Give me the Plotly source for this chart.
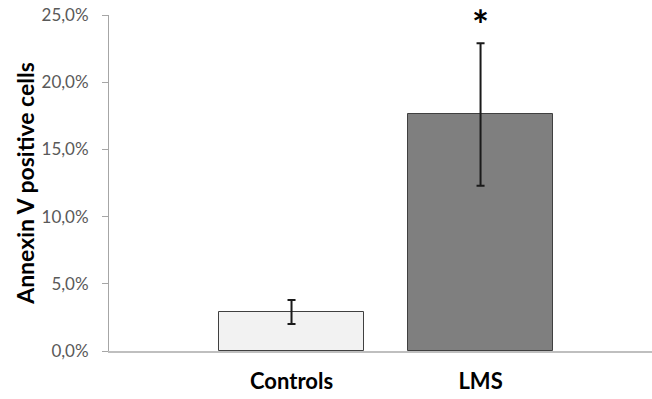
import plotly.graph_objects as go

categories = ["Controls", "LMS"]
means = [0.029, 0.176]
errors = [0.009, 0.053]
bar_colors = ["#f2f2f2", "#7f7f7f"]
y_ticks = [0, 0.05, 0.10, 0.15, 0.20, 0.25]
x_pos = [1, 2]

fig = go.Figure()
fig.add_trace(go.Bar(
    x=x_pos, y=means, width=0.767,
    marker=dict(color=bar_colors, line=dict(color="#404040", width=1)),
    error_y=dict(type="data", array=errors, visible=True, color="#1a1a1a", thickness=2, width=4),
))

fig.add_annotation(x=x_pos[1], y=means[1] + errors[1], text="<b>*</b>", showarrow=False,
                   yanchor="bottom", yshift=-8, font=dict(size=40, color="#000000", family="Lato"))

fig.update_layout(
    width=652, height=399,
    margin=dict(l=109, r=0, t=15, b=48),
    plot_bgcolor="white", paper_bgcolor="white",
    separators=",.",
    showlegend=False,
    bargap=0,
    font=dict(family="Lato"),
)
fig.update_xaxes(
    range=[0.0344, 2.907], tickvals=x_pos, ticktext=[f"<b>{c}</b>" for c in categories],
    showline=True, linecolor="#bfbfbf", linewidth=2, showgrid=False, zeroline=False,
    ticks="", tickfont=dict(size=22, color="#000000", family="Lato"), ticklabelstandoff=10,
)
fig.update_yaxes(
    range=[0, 0.25], tickvals=y_ticks, tickformat=".1%",
    showline=True, linecolor="#a6a6a6", linewidth=1, showgrid=False, zeroline=False,
    ticks="outside", ticklen=6, tickcolor="#a6a6a6",
    tickfont=dict(size=17, color="#595959", family="Lato"), ticklabelstandoff=10,
    title=dict(text="<b>Annexin V positive cells</b>", font=dict(size=23, color="#000000", family="Lato"), standoff=0),
)

fig.write_html("out.html")
